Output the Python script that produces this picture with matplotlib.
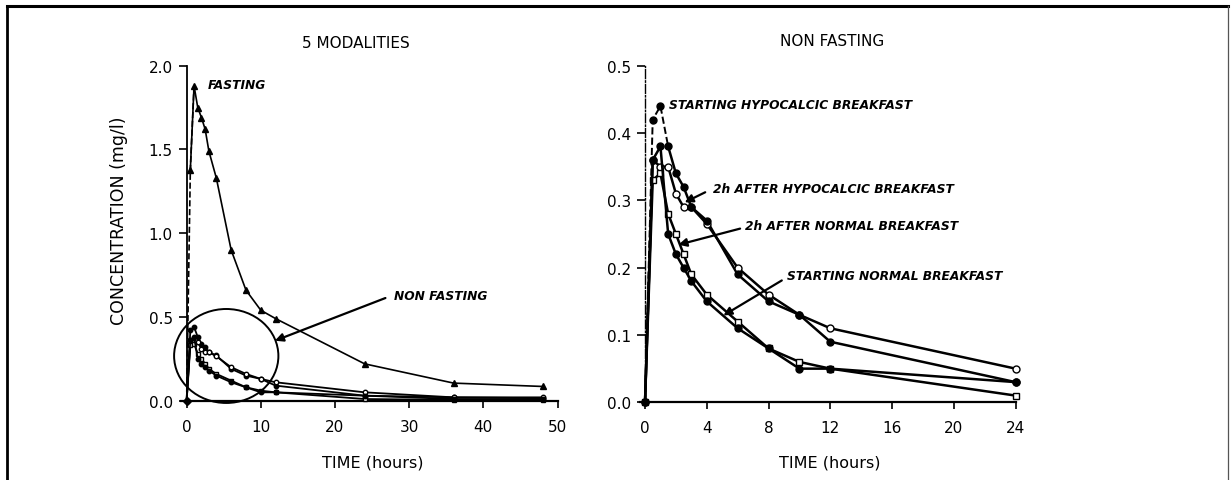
import matplotlib
matplotlib.use("Agg")
import matplotlib.pyplot as plt
from matplotlib.patches import Ellipse
from matplotlib.lines import Line2D
from matplotlib.ticker import FormatStrFormatter

# ---------------- data ----------------
time_fasting = [0, 0.5, 1, 1.5, 2, 2.5, 3, 4, 6, 8, 10, 12, 24, 36, 48]
conc_fasting = [0, 1.38, 1.88, 1.75, 1.69, 1.62, 1.49, 1.33, 0.90, 0.66, 0.54, 0.49, 0.22, 0.105, 0.085]

time_nonfasting = [0, 0.5, 1, 1.5, 2, 2.5, 3, 4, 6, 8, 10, 12, 24, 36, 48]
start_hypocalcic = [0, 0.42, 0.44, 0.38, 0.34, 0.32, 0.29, 0.27, 0.19, 0.15, 0.13, 0.09, 0.03, 0.02, 0.015]
after_hypocalcic = [0, 0.36, 0.35, 0.35, 0.31, 0.29, 0.29, 0.265, 0.20, 0.16, 0.13, 0.11, 0.05, 0.02, 0.02]
after_normal = [0, 0.33, 0.34, 0.28, 0.25, 0.22, 0.19, 0.16, 0.12, 0.08, 0.06, 0.05, 0.01, 0.005, 0.005]
start_normal = [0, 0.36, 0.38, 0.25, 0.22, 0.20, 0.18, 0.15, 0.11, 0.08, 0.05, 0.05, 0.03, 0.01, 0.01]

left_xticks = [0, 10, 20, 30, 40, 50]
left_yticks = [0.0, 0.5, 1.0, 1.5, 2.0]
right_xticks = [0, 4, 8, 12, 16, 20, 24]
right_yticks = [0.0, 0.1, 0.2, 0.3, 0.4, 0.5]

plt.rcParams['font.family'] = ['DejaVu Sans']

W, H = 1231, 481
fig = plt.figure(figsize=(W / 100, H / 100), dpi=100)


def fx(px):
    return px / W


def fy(py):
    return 1 - py / H


# ---------------- figure frame ----------------
fig.add_artist(Line2D([fx(7), fx(1228)], [fy(7), fy(7)], color='black', lw=2.2))
fig.add_artist(Line2D([fx(7), fx(7)], [fy(7), fy(485)], color='black', lw=2.0))
fig.add_artist(Line2D([fx(1228), fx(1228)], [fy(7), fy(485)], color='#555555', lw=0.9))

# ---------------- left panel ----------------
axL = fig.add_axes([fx(180.7), fy(401.7), fx(557.5) - fx(180.7), fy(66.7) - fy(401.7)])
axL.set_xlim(-0.8, 50)
axL.set_ylim(0, 2.0)

# non fasting curves (thin)
nf_series = [start_hypocalcic, after_hypocalcic, after_normal, start_normal]
nf_markers = [dict(marker='o', mfc='black'), dict(marker='o', mfc='white'),
              dict(marker='s', mfc='white'), dict(marker='o', mfc='black')]
for vals, mk in zip(nf_series, nf_markers):
    axL.plot(time_nonfasting, vals, color='black', lw=1.3, ms=3.2, mec='black',
             clip_on=False, zorder=3, **mk)

# fasting curve
axL.plot(time_fasting[:3], conc_fasting[:3], color='black', lw=1.2, ls='--', zorder=3, clip_on=False)
axL.plot(time_fasting[1:], conc_fasting[1:], color='black', lw=1.2, marker='^', ms=4,
         mfc='black', mec='black', zorder=3, clip_on=False)
axL.plot([time_fasting[0]], [conc_fasting[0]], marker='D', ms=4, color='black', clip_on=False, zorder=4)

axL.add_patch(Ellipse((5.34, 0.267), 14.06, 0.561, fill=False, lw=1.4, ec='black', clip_on=False, zorder=4))

ann_font = dict(fontsize=8.8, fontweight='bold', fontstyle='italic', color='black')
axL.text(2.8, 1.89, 'FASTING', ha='left', va='center', **ann_font)
axL.text(27.9, 0.627, 'NON FASTING', ha='left', va='center', **ann_font)
axL.annotate('', xy=(11.9, 0.358), xytext=(26.8, 0.613),
             arrowprops=dict(arrowstyle='-|>', lw=1.6, color='black', mutation_scale=12,
                             shrinkA=0, shrinkB=0))

axL.set_xticks(left_xticks)
axL.set_yticks(left_yticks)
axL.yaxis.set_major_formatter(FormatStrFormatter('%.1f'))

# ---------------- right panel ----------------
axR = fig.add_axes([fx(639.6), fy(403.3), fx(1015.5) - fx(639.6), fy(66.7) - fy(403.3)])
axR.set_xlim(-0.35, 24)
axR.set_ylim(0, 0.5)

n24 = time_nonfasting.index(24) + 1
r_markers = [dict(marker='o', mfc='black'), dict(marker='o', mfc='white'),
             dict(marker='s', mfc='white'), dict(marker='o', mfc='black')]
r_styles = ['--', '-', '-', '-']
for vals, mk, ls in zip(nf_series, r_markers, r_styles):
    t = time_nonfasting[:n24]
    v = vals[:n24]
    if ls == '--':
        axR.plot(t[:4], v[:4], color='black', lw=1.4, ls='--', zorder=3, clip_on=False)
        axR.plot(t[3:], v[3:], color='black', lw=1.8, zorder=3, clip_on=False)
        axR.plot(t[1:], v[1:], ls='none', ms=5, mec='black', zorder=4, clip_on=False, **mk)
    else:
        axR.plot(t, v, color='black', lw=1.8, ms=5, mec='black', zorder=3, clip_on=False, **mk)
axR.plot([0], [0], marker='o', ms=4, color='black', clip_on=False, zorder=4)

axR.text(1.58, 0.443, 'STARTING HYPOCALCIC BREAKFAST', ha='left', va='center', **ann_font)
axR.text(4.43, 0.317, '2h AFTER HYPOCALCIC BREAKFAST', ha='left', va='center', **ann_font)
axR.text(6.49, 0.263, '2h AFTER NORMAL BREAKFAST', ha='left', va='center', **ann_font)
axR.text(9.19, 0.189, 'STARTING NORMAL BREAKFAST', ha='left', va='center', **ann_font)
arrow_kw = dict(arrowstyle='-|>', lw=1.6, color='black', mutation_scale=12, shrinkA=0, shrinkB=0)
axR.annotate('', xy=(2.57, 0.297), xytext=(3.9, 0.312), arrowprops=arrow_kw)
axR.annotate('', xy=(2.16, 0.234), xytext=(6.16, 0.258), arrowprops=arrow_kw)
axR.annotate('', xy=(5.08, 0.129), xytext=(8.86, 0.181), arrowprops=arrow_kw)

axR.set_xticks(right_xticks)
axR.set_yticks(right_yticks)
axR.yaxis.set_major_formatter(FormatStrFormatter('%.1f'))

# ---------------- common styling ----------------
for ax in (axL, axR):
    for s in ('top', 'right'):
        ax.spines[s].set_visible(False)
    ax.spines['left'].set_position(('data', 0))
    ax.spines['left'].set_linewidth(1.3)
    ax.spines['bottom'].set_linewidth(1.6)
    ax.patch.set_visible(False)
    ax.tick_params(axis='both', direction='out', width=1.2, labelsize=11, color='black')
    ax.tick_params(axis='x', length=5, pad=8)
    ax.tick_params(axis='y', length=6, pad=4)
axR.spines['left'].set_linestyle('-.')
axR.spines['left'].set_linewidth(1.0)

# titles and axis labels
txt = dict(fontsize=11, color='black')
fig.text(fx(356), fy(43), '5 MODALITIES', ha='center', va='center', **txt)
fig.text(fx(832), fy(42), 'NON FASTING', ha='center', va='center', **txt)
fig.text(fx(372.7), fy(463), 'TIME (hours)', ha='center', va='center', fontsize=11.5, color='black')
fig.text(fx(829.6), fy(463), 'TIME (hours)', ha='center', va='center', fontsize=11.5, color='black')
fig.text(fx(118.6), fy(220.5), 'CONCENTRATION (mg/l)', ha='center', va='center', rotation=90,
         fontsize=12.5, color='black')

fig.savefig('out.png', dpi=100)
